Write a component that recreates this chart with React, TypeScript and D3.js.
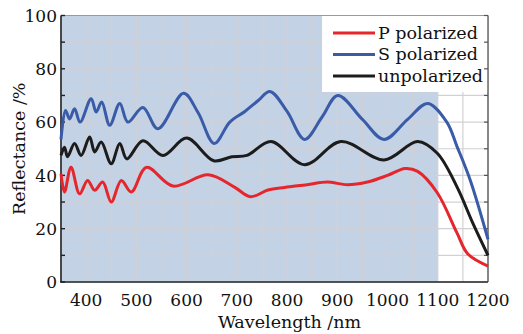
import React from "react";
import * as d3 from "d3";

// S polarized (blue)
const sWave = [350, 359, 367, 377, 388, 410, 420, 431, 447, 467, 483, 513, 543, 594, 623, 655, 686, 716, 742, 766, 800, 835, 870, 901, 950, 993, 1040, 1080, 1118, 1138, 1165, 1200];
const sVal = [53.5, 64.4, 61.2, 65, 60, 68.8, 63.8, 67.5, 58.8, 67, 60, 65.5, 57.5, 70.8, 63.5, 52, 60, 64, 68, 71.5, 64, 53.5, 62, 70, 61, 53.5, 61, 67, 60, 51, 38, 16];

// unpolarized (black)
const uWave = [350, 357, 363, 377, 390, 407, 417, 430, 450, 467, 481, 513, 553, 600, 654, 690, 720, 768, 835, 907, 993, 1060, 1099, 1138, 1170, 1200];
const uVal = [47.5, 50.6, 47, 52, 47.5, 54.4, 48.8, 52.5, 44.4, 52, 46.2, 53, 47.5, 54, 45.5, 47, 47.5, 52.7, 44, 52.7, 45.8, 52.7, 48.3, 35.8, 22, 10];

// P polarized (red)
const pWave = [350, 357, 370, 387, 403, 417, 433, 450, 470, 490, 520, 573, 643, 696, 727, 762, 795, 840, 880, 920, 960, 1000, 1035, 1060, 1099, 1138, 1160, 1200];
const pVal = [40.6, 33.8, 43.1, 33.1, 38.1, 34.4, 37.5, 30, 38.1, 33.8, 43, 36, 40.2, 35.5, 32, 34.5, 35.5, 36.5, 37.5, 36.5, 37.5, 40, 42.6, 41.5, 33.5, 18.5, 10.5, 6];

const xTicks = [400, 500, 600, 700, 800, 900, 1000, 1100, 1200];
const yTicks = [0, 20, 40, 60, 80, 100];

const series = [
  { name: "P polarized", wave: pWave, val: pVal, color: "#e5262c" },
  { name: "S polarized", wave: sWave, val: sVal, color: "#3a5ba8" },
  { name: "unpolarized", wave: uWave, val: uVal, color: "#1c1c1c" },
];

const W = 523;
const H = 334;
const m = { left: 61, right: 35, top: 15.5, bottom: 52 };
const FONT = "'DejaVu Serif', serif";

export default function App() {
  const x = d3.scaleLinear().domain([350, 1200]).range([m.left, W - m.right]);
  const y = d3.scaleLinear().domain([0, 100]).range([H - m.bottom, m.top]);

  const line = d3
    .line<[number, number]>()
    .x((d) => x(d[0]))
    .y((d) => y(d[1]))
    .curve(d3.curveCatmullRom.alpha(0.5));

  const gridX = d3.range(350, 1201, 50);
  const gridY = d3.range(0, 101, 10);

  const legX = 322;
  const legBottom = 92;

  return (
    <svg width={W} height={H} style={{ position: "absolute", left: 0, top: 0, background: "#fff" }}>
      {/* shaded band up to 1100 nm */}
      <rect x={x(350)} y={y(100)} width={x(1100) - x(350)} height={y(0) - y(100)} fill="#c4d2e5" />
      {/* grid */}
      {gridX.map((v) => (
        <line key={"gx" + v} x1={x(v)} x2={x(v)} y1={y(0)} y2={y(100)} stroke="#d2d0d4" strokeWidth={1.2} />
      ))}
      {gridY.map((v) => (
        <line key={"gy" + v} x1={x(350)} x2={x(1200)} y1={y(v)} y2={y(v)} stroke="#d2d0d4" strokeWidth={1.2} />
      ))}
      {/* legend area */}
      <rect x={legX} y={y(100)} width={x(1200) - legX} height={legBottom - y(100)} fill="#fff" />
      {/* frame */}
      <line x1={x(350)} x2={x(1200)} y1={y(100)} y2={y(100)} stroke="#999" strokeWidth={1} />
      <line x1={x(1200)} x2={x(1200)} y1={y(100)} y2={y(0)} stroke="#555" strokeWidth={1.3} />
      <line x1={x(350)} x2={x(350)} y1={y(100)} y2={y(0)} stroke="#222" strokeWidth={1.6} />
      <line x1={x(350) - 1} x2={x(1200)} y1={y(0)} y2={y(0)} stroke="#222" strokeWidth={1.6} />
      {gridY.map((v) => (
        <g key={"t" + v}>
          <line x1={x(350)} x2={x(350) + 4} y1={y(v)} y2={y(v)} stroke="#222" strokeWidth={1.4} />
          <line x1={x(1200)} x2={x(1200) - 4} y1={y(v)} y2={y(v)} stroke="#555" strokeWidth={1.2} />
        </g>
      ))}
      {/* curves */}
      {series.map((s) => (
        <path
          key={s.name}
          d={line(s.wave.map((w, i) => [w, s.val[i]] as [number, number])) || ""}
          fill="none"
          stroke={s.color}
          strokeWidth={3}
          strokeLinejoin="round"
        />
      ))}
      {/* tick labels */}
      {yTicks.map((v) => (
        <text key={"yl" + v} x={57} y={y(v)} dy="0.36em" textAnchor="end" fontFamily={FONT} fontSize={17} fill="#111">
          {v}
        </text>
      ))}
      {xTicks.map((v) => (
        <text key={"xl" + v} x={x(v)} y={306} textAnchor="middle" fontFamily={FONT} fontSize={17} fill="#111">
          {v}
        </text>
      ))}
      <text x={(x(350) + x(1200)) / 2 + 15} y={328} textAnchor="middle" fontFamily={FONT} fontSize={17.5} fill="#111">
        Wavelength /nm
      </text>
      <text
        transform={`translate(25, ${(y(0) + y(100)) / 2}) rotate(-90)`}
        textAnchor="middle"
        fontFamily={FONT}
        fontSize={17.5}
        fill="#111"
      >
        Reflectance /%
      </text>
      {/* legend */}
      {series.map((s, i) => (
        <g key={"lg" + s.name} transform={`translate(0, ${33 + i * 21.5})`}>
          <line x1={333} x2={375} y1={0} y2={0} stroke={s.color} strokeWidth={3} />
          <text x={378} y={0} dy="0.34em" fontFamily={FONT} fontSize={17.5} fill="#111">
            {s.name}
          </text>
        </g>
      ))}
    </svg>
  );
}
